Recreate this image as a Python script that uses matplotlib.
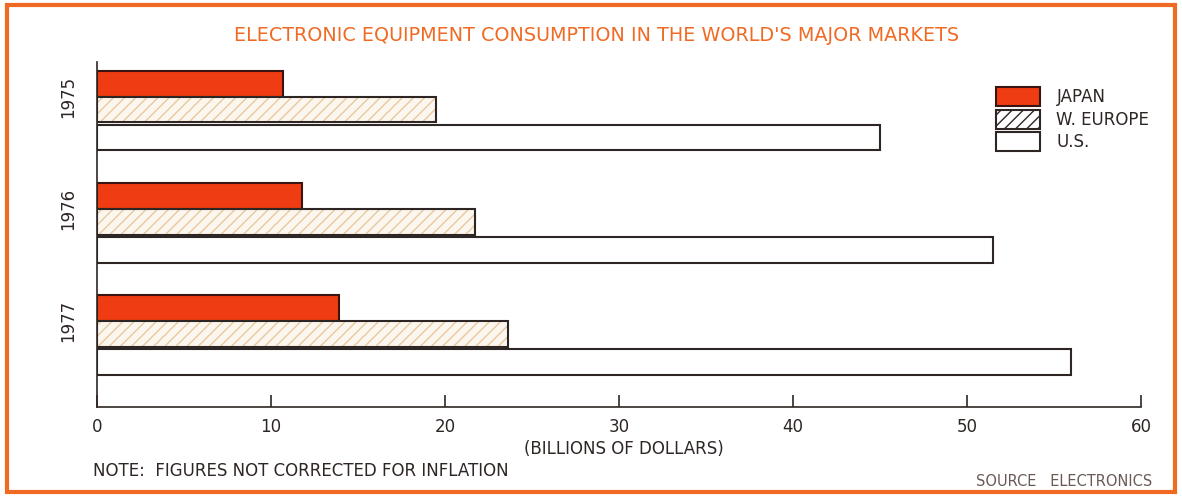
import numpy as np
import matplotlib.pyplot as plt
from matplotlib.patches import Patch, Rectangle

years = ["1975", "1976", "1977"]
series = ["JAPAN", "W. EUROPE", "U.S."]
japan = [10.7, 11.8, 13.9]
w_europe = [19.5, 21.7, 23.6]
us = [45.0, 51.5, 56.0]

ink = "#2e2624"
orange = "#f06a24"
red = "#f03c12"

plt.rcParams["font.family"] = ["Liberation Sans Narrow", "DejaVu Sans"]

fig = plt.figure(figsize=(11.82, 4.98), dpi=100)
ax = fig.add_axes([0.0821, 0.1827, 0.8832, 0.6928])

y = np.arange(len(years))
h = 0.232
off = [-0.232, 0.0, 0.25]

ax.barh(y + off[0], japan, height=h, color=red, edgecolor="#3a1410", linewidth=1.5)
# hatched bars: light fill with faint hatch, then a dark outline on top
ax.barh(y + off[1], w_europe, height=h, color="#fcf7ee", edgecolor="#e8c8a0",
        hatch="///", linewidth=0)
ax.barh(y + off[1], w_europe, height=h, fill=False, edgecolor=ink, linewidth=1.5)
ax.barh(y + off[2], us, height=h, color="white", edgecolor=ink, linewidth=1.5)

ax.set_xlim(0, 60)
ax.set_ylim(2.656, -0.424)
ax.set_xticks(range(0, 61, 10))
ax.tick_params(axis="x", direction="in", length=9, width=1.2, color=ink,
               labelsize=12, labelcolor=ink, pad=8)
ax.set_yticks(y - 0.116)
ax.set_yticklabels(years, rotation=90, va="center", fontsize=12, color=ink)
ax.tick_params(axis="y", length=0, pad=14)
for s in ["top", "right"]:
    ax.spines[s].set_visible(False)
for s in ["left", "bottom"]:
    ax.spines[s].set_color(ink)
    ax.spines[s].set_linewidth(1.2)

ax.set_xlabel("(BILLIONS OF DOLLARS)", fontsize=12, color=ink, labelpad=2)
ax.xaxis.set_label_coords(0.505, -0.095)

handles = [Patch(facecolor=red, edgecolor="#3a1410", linewidth=1.5),
           Patch(facecolor="white", edgecolor=ink, hatch="///", linewidth=1.5),
           Patch(facecolor="white", edgecolor=ink, linewidth=1.5)]
leg = fig.legend(handles, series, loc="upper left", bbox_to_anchor=(0.836, 0.842),
                 frameon=False, fontsize=12, handlelength=2.6, handleheight=1.4,
                 handletextpad=1.0, labelspacing=0.2, borderpad=0)
for t in leg.get_texts():
    t.set_color(ink)

fig.text(0.505, 0.928, "ELECTRONIC EQUIPMENT CONSUMPTION IN THE WORLD'S MAJOR MARKETS",
         ha="center", va="center", fontsize=13.8, color=orange)
fig.text(0.079, 0.054, "NOTE:  FIGURES NOT CORRECTED FOR INFLATION",
         ha="left", va="center", fontsize=12, color=ink)
fig.text(0.975, 0.034, "SOURCE   ELECTRONICS", ha="right", va="center",
         fontsize=10.5, color="#6a5a56")

# orange frame around the whole panel
fig.patches.append(Rectangle((0.006, 0.012), 0.988, 0.978, transform=fig.transFigure,
                             fill=False, edgecolor=orange, linewidth=3))

fig.savefig("out.png", dpi=100)
